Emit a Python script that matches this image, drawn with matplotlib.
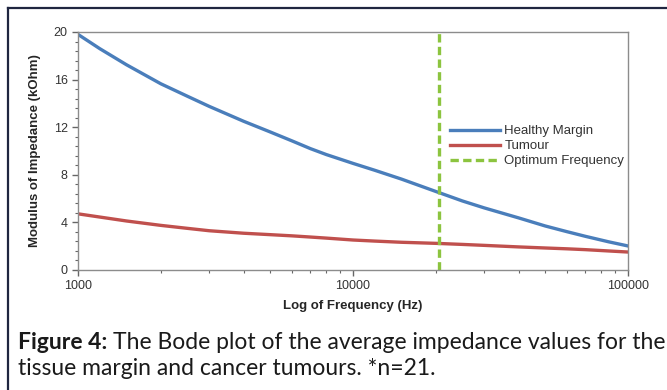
import matplotlib
matplotlib.use("Agg")
import matplotlib.pyplot as plt
from matplotlib.lines import Line2D
from matplotlib.ticker import MultipleLocator, LogLocator, NullFormatter, FixedLocator, FixedFormatter
import numpy as np

freq = [1000, 1200, 1500, 2000, 2500, 3000, 4000, 5000, 6000, 7000, 8000, 10000, 12000,
        15000, 20000, 25000, 30000, 40000, 50000, 60000, 70000, 85000, 100000]
healthy = [19.8, 18.6, 17.25, 15.65, 14.6, 13.75, 12.5, 11.6, 10.85, 10.2, 9.7, 8.96, 8.38,
           7.64, 6.6, 5.8, 5.22, 4.38, 3.7, 3.22, 2.83, 2.37, 2.02]
tumour = [4.72, 4.45, 4.12, 3.75, 3.5, 3.3, 3.09, 2.97, 2.87, 2.77, 2.68, 2.52, 2.43,
          2.33, 2.24, 2.15, 2.07, 1.94, 1.85, 1.78, 1.71, 1.6, 1.51]
optimum_freq = 20500
x_ticks = [1000, 10000, 100000]
x_ticklabels = ["1000", "10000", "100000"]
y_ticks = [0, 4, 8, 12, 16, 20]

W, H = 667, 390
fig = plt.figure(figsize=(W / 100, H / 100), dpi=100)
fig.patch.set_facecolor("white")

ax = fig.add_axes([78 / W, 1 - 270 / H, (628 - 78) / W, (270 - 32) / H])
ax.set_xscale("log")
ax.plot(freq, healthy, color="#4a7ebb", lw=2.4, label="Healthy Margin")
ax.plot(freq, tumour, color="#c0504d", lw=2.4, label="Tumour")
ax.axvline(optimum_freq, color="#8cc43f", lw=2.4, ls=(0, (2.5, 1.3)), label="Optimum Frequency")

ax.set_xlim(1000, 100000)
ax.set_ylim(0, 20)
ax.xaxis.set_major_locator(FixedLocator(x_ticks))
ax.xaxis.set_major_formatter(FixedFormatter(x_ticklabels))
ax.xaxis.set_minor_locator(LogLocator(base=10, subs=np.arange(2, 10)))
ax.xaxis.set_minor_formatter(NullFormatter())
ax.yaxis.set_major_locator(FixedLocator(y_ticks))
ax.yaxis.set_minor_locator(MultipleLocator(0.8))

for s in ax.spines.values():
    s.set_color("#8c8c8c")
    s.set_linewidth(1.0)
ax.tick_params(which="both", direction="out", color="#666666", labelcolor="#333333",
               labelsize=9, labelfontfamily="Liberation Sans")
ax.tick_params(which="major", length=4, width=1)
ax.tick_params(which="minor", length=2.5, width=0.8)
ax.tick_params(axis="x", pad=3)

ax.set_xlabel("Log of Frequency (Hz)", fontsize=9.5, fontweight="bold", family="Liberation Sans",
              color="#262626", labelpad=6)
ax.set_ylabel("Modulus of Impedance (kOhm)", fontsize=9.5, fontweight="bold", family="Liberation Sans",
              color="#262626", labelpad=9)

leg = ax.legend(loc="upper left", bbox_to_anchor=((441 - 78) / 550, (270 - 116) / 238),
                frameon=False, handlelength=3.8, handletextpad=0.3,
                labelspacing=0.2, borderpad=0.2, prop={"family": "Liberation Sans", "size": 9.5})
for t in leg.get_texts():
    t.set_color("#333333")

# border frame of the figure panel
fig.add_artist(Line2D([8 / W, 8 / W], [0, 1 - 8 / H], color="#1f2640", lw=1.6, transform=fig.transFigure))
fig.add_artist(Line2D([8 / W, 1], [1 - 8 / H, 1 - 8 / H], color="#1f2640", lw=1.6, transform=fig.transFigure))

# caption, fitted to the reference width
cap_font = "Lato"
line1_bold = "Figure 4:"
line1_rest = "The Bode plot of the average impedance values for the"
line2 = "tissue margin and cancer tumours. *n=21."
x0, x_end = 18, 662
y1, y2 = 349, 375
renderer = fig.canvas.get_renderer()

def measure(cs):
    a = fig.text(0, 0, line1_bold, fontsize=cs, fontweight="bold", family=cap_font)
    b = fig.text(0, 0, line1_rest, fontsize=cs, family=cap_font)
    wa = a.get_window_extent(renderer=renderer).width
    wb = b.get_window_extent(renderer=renderer).width
    sp = fig.text(0, 0, "a a", fontsize=cs, family=cap_font).get_window_extent(renderer=renderer).width \
        - fig.text(0, 0, "aa", fontsize=cs, family=cap_font).get_window_extent(renderer=renderer).width
    for t in list(fig.texts):
        t.remove()
    return wa, wb, sp

cs = 12.0
wa, wb, sp = measure(cs)
cs = cs * (x_end - x0) / (wa + wb + sp)
wa, wb, sp = measure(cs)

fig.text(x0 / W, 1 - y1 / H, line1_bold, fontsize=cs, fontweight="bold", family=cap_font,
         color="#1a1a1a", va="baseline")
fig.text((x0 + wa + sp) / W, 1 - y1 / H, line1_rest, fontsize=cs, family=cap_font,
         color="#1a1a1a", va="baseline")
fig.text(x0 / W, 1 - y2 / H, line2, fontsize=cs, family=cap_font, color="#1a1a1a", va="baseline")

fig.savefig("out.png", dpi=100)
